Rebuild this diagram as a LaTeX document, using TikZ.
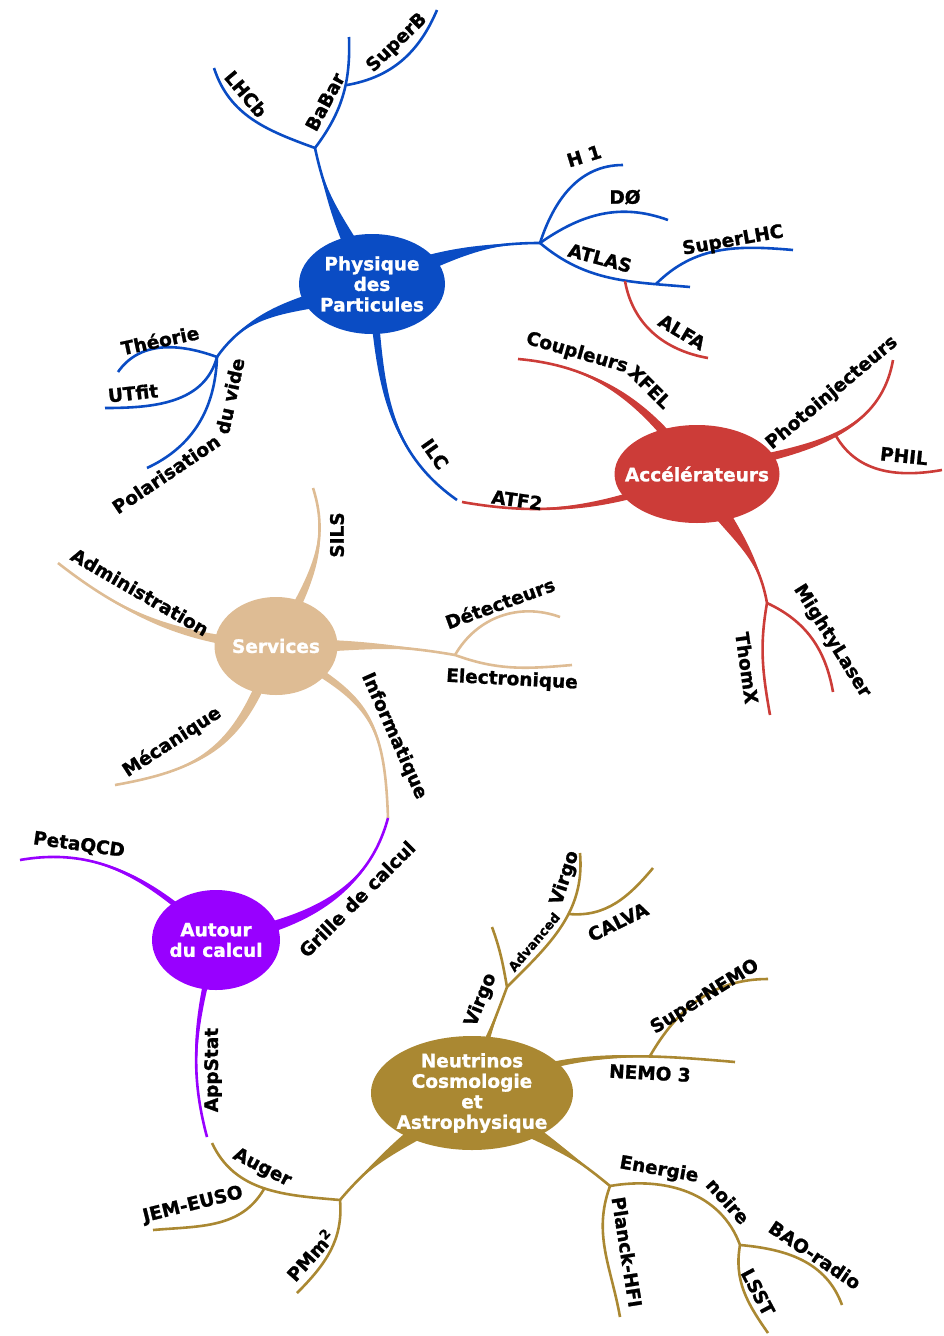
\documentclass[tikz,border=0pt]{standalone}
\usepackage{fontspec}
\setmainfont{DejaVu Sans}[BoldFeatures={FakeBold=1.2}]
\usetikzlibrary{shapes.geometric,backgrounds}

\definecolor{pblue}{RGB}{10,76,196}
\definecolor{ared}{RGB}{204,60,56}
\definecolor{stan}{RGB}{222,188,148}
\definecolor{cviolet}{RGB}{152,0,255}
\definecolor{ngold}{RGB}{170,136,50}

\tikzset{
  hub/.style={ellipse, text=white, align=center, inner xsep=-45pt, inner ysep=-40pt,
    font=\bfseries\fontsize{18.5}{20.5}\selectfont},
  twig/.style={line width=2.6pt},
}

% tapered main branch: [looseness]{colour}{half width}{from}{to}{out}{in}
\newcommand{\stem}[7][1]{%
  \fill[#2] ([shift={(#6+90:#3)}]#4) to[out=#6,in=#7,looseness=#1] (#5)
    to[out=#7,in=#6,looseness=#1] ([shift={(#6-90:#3)}]#4) -- cycle;
  \draw[#2,twig] (#4) to[out=#6,in=#7,looseness=#1] (#5);}

\begin{document}
\begin{tikzpicture}[x=1pt,y=1pt]
  \useasboundingbox (0,0) rectangle (943,-1336);

  \begin{scope}[every node/.style={hub}]
    \node[fill=pblue, minimum width=146pt, minimum height=100pt] (p) at (372,-284) {Physique\\des\\Particules};
    \node[fill=ared, minimum width=165pt, minimum height=98pt] (a) at (697,-474) {Accélérateurs};
    \node[fill=stan, minimum width=123pt, minimum height=98pt] (s) at (276,-646) {Services};
    \node[fill=cviolet, minimum width=128pt, minimum height=100pt] (c) at (216,-940) {Autour\\du calcul};
    \node[fill=ngold, minimum width=202pt, minimum height=114pt] (n) at (472,-1093) {Neutrinos\\Cosmologie\\et\\Astrophysique};
  \end{scope}

  % junctions and branch ends
  \coordinate (jb) at (315,-148);   \coordinate (jsb) at (347,-85);
  \coordinate (jr) at (540,-243);   \coordinate (jlhc) at (656,-284);
  \coordinate (jalfa) at (625,-281); \coordinate (jl) at (217,-357);
  \coordinate (lhcb) at (214,-68);  \coordinate (babar) at (349,-37);
  \coordinate (superb) at (437,-10); \coordinate (h1) at (623,-165);
  \coordinate (dzero) at (668,-220); \coordinate (atlas) at (690,-287);
  \coordinate (slhc) at (793,-250); \coordinate (alfa) at (708,-358);
  \coordinate (theo) at (118,-372); \coordinate (utfit) at (105,-408);
  \coordinate (polar) at (147,-468); \coordinate (ilc) at (457,-500);
  \coordinate (xfel) at (518,-359); \coordinate (atf) at (462,-502);
  \coordinate (photo) at (893,-360); \coordinate (jphil) at (836,-436);
  \coordinate (phil) at (942,-470); \coordinate (jt) at (767,-603);
  \coordinate (mighty) at (833,-692); \coordinate (thomx) at (770,-715);
  \coordinate (sils) at (313,-488); \coordinate (adm) at (58,-563);
  \coordinate (meca) at (115,-785); \coordinate (jd) at (455,-655);
  \coordinate (elec) at (572,-665); \coordinate (detec) at (560,-617);
  \coordinate (gi) at (388,-818);   \coordinate (peta) at (20,-860);
  \coordinate (app) at (207,-1137); \coordinate (jv) at (507,-987);
  \coordinate (virgo) at (492,-927); \coordinate (avirgo) at (580,-853);
  \coordinate (jcal) at (569,-914); \coordinate (calva) at (653,-868);
  \coordinate (nemo) at (735,-1062); \coordinate (jnemo) at (650,-1056);
  \coordinate (snemo) at (768,-979); \coordinate (jpm) at (340,-1200);
  \coordinate (auger) at (212,-1143); \coordinate (jje) at (264,-1189);
  \coordinate (jem) at (153,-1230); \coordinate (pmm) at (297,-1293);
  \coordinate (jen) at (610,-1186); \coordinate (jbao) at (740,-1245);
  \coordinate (planck) at (620,-1317); \coordinate (bao) at (842,-1305);
  \coordinate (lsst) at (768,-1333);

  \begin{pgfonlayer}{background}
    \stem{pblue}{9}{p.center}{jb}{118}{-78}
    \stem{pblue}{10}{p.center}{jr}{21}{180}
    \stem{pblue}{10}{p.center}{jl}{200}{55}
    \stem{pblue}{4}{p.center}{ilc}{-85}{145}
    \stem{ared}{5}{a.center}{xfel}{125}{-5}
    \stem{ared}{4}{a.center}{atf}{200}{-10}
    \stem{ared}{5}{a.center}{photo}{15}{-100}
    \stem{ared}{10}{a.center}{jt}{-63}{100}
    \stem{stan}{5}{s.center}{sils}{63}{-72}
    \stem{stan}{5}{s.center}{adm}{176}{-38}
    \stem[1.2]{stan}{5}{s.center}{meca}{-110}{10}
    \stem{stan}{7}{s.center}{jd}{0}{170}
    \stem[1.3]{stan}{4}{s.center}{gi}{-30}{92}
    \stem{cviolet}{3}{c.center}{peta}{137}{10}
    \stem{cviolet}{6}{c.center}{gi}{10}{-105}
    \stem{cviolet}{3}{c.center}{app}{-104}{105}
    \stem{ngold}{5}{n.center}{jv}{78}{-110}
    \stem{ngold}{4}{n.center}{nemo}{25}{175}
    \stem{ngold}{11}{n.center}{jpm}{-142}{50}
    \stem{ngold}{11}{n.center}{jen}{-35}{140}

    \begin{scope}[every edge/.style={draw=pblue, twig}]
      \path (jb) edge[out=160,in=-72] (lhcb);
      \path (jb) edge[out=53,in=-88] (babar);
      \path (jsb) edge[out=10,in=-113] (superb);
      \path (jr) edge[out=72,in=180] (h1);
      \path (jr) edge[out=35,in=160] (dzero);
      \path (jr) edge[out=-40,in=175] (atlas);
      \path (jlhc) edge[out=45,in=175] (slhc);
      \path (jl) edge[out=160,in=55] (theo);
      \path (jl) edge[out=-105,in=0] (utfit);
      \path (jl) edge[out=-92,in=25] (polar);
    \end{scope}

    \begin{scope}[every edge/.style={draw=ared, twig}]
      \path (jalfa) edge[out=-80,in=170] (alfa);
      \path (jphil) edge[out=-60,in=-170] (phil);
      \path (jt) edge[out=-25,in=100] (mighty);
      \path (jt) edge[out=-100,in=100] (thomx);
    \end{scope}

    \begin{scope}[every edge/.style={draw=stan, twig}]
      \path (jd) edge[out=-20,in=-175] (elec);
      \path (jd) edge[out=60,in=160] (detec);
    \end{scope}

    \begin{scope}[every edge/.style={draw=ngold, twig}]
      \path (jv) edge[out=100,in=-70] (virgo);
      \path (jv) edge[out=45,in=-85] (avirgo);
      \path (jcal) edge[out=-5,in=-130] (calva);
      \path (jnemo) edge[out=60,in=180] (snemo);
      \path (jpm) edge[out=175,in=-65] (auger);
      \path (jje) edge[out=-120,in=5] (jem);
      \path (jpm) edge[out=-85,in=45] (pmm);
      \path (jen) edge[out=10,in=110] (jbao);
      \path (jen) edge[out=-110,in=100] (planck);
      \path (jbao) edge[out=-5,in=110] (bao);
      \path (jbao) edge[out=-100,in=125] (lsst);
    \end{scope}
  \end{pgfonlayer}

  \begin{scope}[every node/.style={font=\bfseries\fontsize{18.5}{21}\selectfont, inner sep=0pt}]
    \node[rotate=-50] (tlhcb) at (246,-94) {LHCb};
    \node[rotate=62] (tbabar) at (325,-102) {BaBar};
    \node[rotate=44] (tsuperb) at (397,-43) {SuperB};
    \node[rotate=17] (th1) at (584,-156) {H 1};
    \node (tdzero) at (625,-197) {DØ};
    \node[rotate=-15] (tatlas) at (600,-258) {ATLAS};
    \node[rotate=10] (tslhc) at (733,-241) {SuperLHC};
    \node[rotate=-31] (talfa) at (682,-332) {ALFA};
    \node[rotate=12] (ttheo) at (160,-340) {Théorie};
    \node[rotate=6] (tutfit) at (133,-393) {UTfit};
    \node[rotate=34] (tpolar) at (166,-474) {Polarisation};
    \node[rotate=78] (tvide) at (230,-396) {du vide};
    \node[rotate=-55] (tilc) at (435,-454) {ILC};
    \node[rotate=-16] (tcoup) at (577,-353) {Coupleurs};
    \node[rotate=-45] (txfel) at (650,-387) {XFEL};
    \node[rotate=-8] (tatf) at (517,-500) {ATF2};
    \node[rotate=40] (tphoto) at (832,-393) {Photoinjecteurs};
    \node[rotate=-6] (tphil) at (904,-456) {PHIL};
    \node[rotate=-58] (tmighty) at (832,-641) {MightyLaser};
    \node[rotate=-82] (tthomx) at (747,-668) {ThomX};
    \node[rotate=90] (tsils) at (337,-535) {SILS};
    \node[rotate=-30] (tadm) at (140,-592) {Administration};
    \node[rotate=33] (tmeca) at (172,-742) {Mécanique};
    \node[rotate=20] (tdetec) at (500,-603) {Détecteurs};
    \node[rotate=-3] (telec) at (512,-680) {Electronique};
    \node[rotate=-66] (tinfo) at (394,-736) {Informatique};
    \node[rotate=-8] (tpeta) at (79,-845) {PetaQCD};
    \node[rotate=45] (tgrille) at (357,-899) {Grille de calcul};
    \node[rotate=90] (tapp) at (213,-1070) {AppStat};
    \node[rotate=68] (tvirgo) at (481,-1000) {Virgo};
    \node[rotate=50, font=\bfseries\fontsize{13}{15}\selectfont] (tadv) at (534,-942) {Advanced};
    \node[rotate=72] (tavirgo) at (565,-878) {Virgo};
    \node[rotate=26] (tcalva) at (618,-922) {CALVA};
    \node[rotate=-3] (tnemo) at (650,-1073) {NEMO 3};
    \node[rotate=32] (tsnemo) at (705,-997) {SuperNEMO};
    \node[rotate=-27] (tauger) at (262,-1168) {Auger};
    \node[rotate=14] (tjem) at (193,-1205) {JEM-EUSO};
    \node[rotate=48] (tpmm) at (310,-1255) {PMm\textsuperscript{2}};
    \node[rotate=-10] (tener) at (659,-1170) {Energie};
    \node[rotate=-48] (tnoire) at (728,-1201) {noire};
    \node[rotate=-81] (tplanck) at (627,-1252) {Planck-HFI};
    \node[rotate=-34] (tbao) at (815,-1255) {BAO-radio};
    \node[rotate=-62] (tlsst) at (758,-1292) {LSST};
  \end{scope}
\end{tikzpicture}
\end{document}
